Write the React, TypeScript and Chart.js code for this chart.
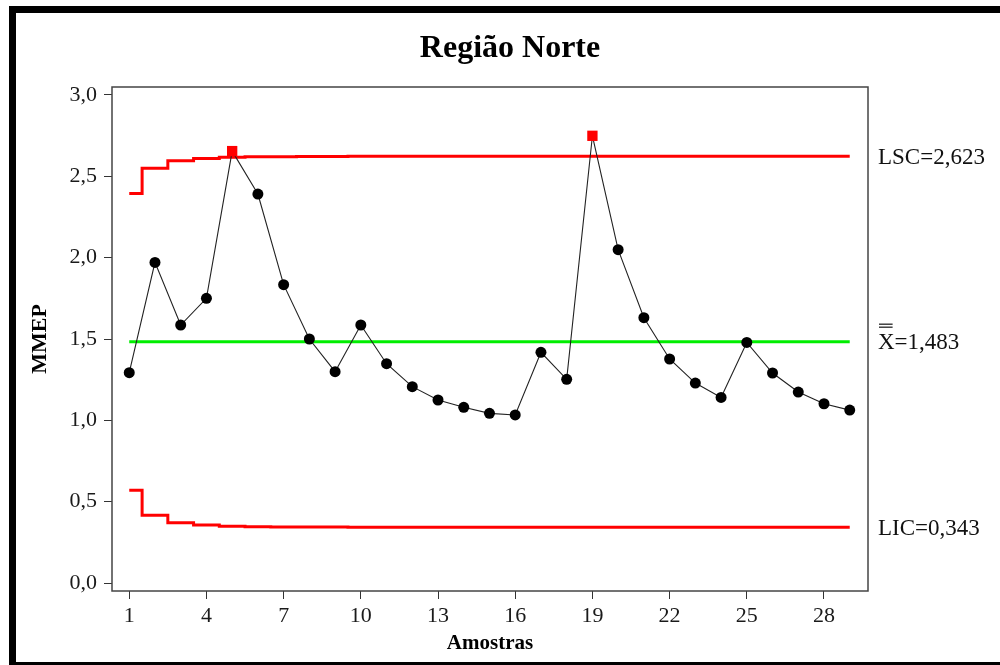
import React, { useEffect, useRef } from "react";
import { Chart, registerables } from "chart.js";

Chart.register(...registerables);

// ---- data ----
const samples = [1, 2, 3, 4, 5, 6, 7, 8, 9, 10, 11, 12, 13, 14, 15, 16, 17, 18, 19, 20, 21, 22, 23, 24, 25, 26, 27, 28, 29];
const mmep = [1.293, 1.971, 1.586, 1.75, 2.655, 2.391, 1.834, 1.5, 1.299, 1.586, 1.348, 1.207, 1.125, 1.08, 1.043, 1.033, 1.418, 1.252, 2.749, 2.049, 1.631, 1.377, 1.229, 1.141, 1.479, 1.291, 1.174, 1.102, 1.063];
const ucl = [2.395, 2.549, 2.595, 2.61, 2.617, 2.62, 2.621, 2.622, 2.622, 2.623, 2.623, 2.623, 2.623, 2.623, 2.623, 2.623, 2.623, 2.623, 2.623, 2.623, 2.623, 2.623, 2.623, 2.623, 2.623, 2.623, 2.623, 2.623, 2.623];
const lcl = [0.571, 0.417, 0.371, 0.356, 0.349, 0.346, 0.345, 0.344, 0.344, 0.343, 0.343, 0.343, 0.343, 0.343, 0.343, 0.343, 0.343, 0.343, 0.343, 0.343, 0.343, 0.343, 0.343, 0.343, 0.343, 0.343, 0.343, 0.343, 0.343];
const centerValue = 1.483;
const xTickValues = [1, 4, 7, 10, 13, 16, 19, 22, 25, 28];
const yTickValues = [0, 0.5, 1, 1.5, 2, 2.5, 3];
const titleText = "Região Norte";
const xTitle = "Amostras";
const yTitle = "MMEP";
const uclName = "LSC";
const lclName = "LIC";
const centerName = "X";

const SERIF = '"Liberation Serif", "Times New Roman", serif';
const fmt3 = (v: number) => v.toFixed(3).replace(".", ",");

const frameRect = {
  id: "frameRect",
  beforeDatasetsDraw(chart: any) {
    const { ctx, chartArea } = chart;
    ctx.save();
    ctx.strokeStyle = "#444";
    ctx.lineWidth = 1.5;
    ctx.strokeRect(chartArea.left, chartArea.top, chartArea.right - chartArea.left, chartArea.bottom - chartArea.top);
    ctx.restore();
  },
};

const sideLabels = {
  id: "sideLabels",
  afterDraw(chart: any) {
    const { ctx, chartArea } = chart;
    const y = chart.scales.y;
    const size = 23;
    const cap = size * 0.66;
    const x0 = chartArea.right + 10;
    ctx.save();
    ctx.font = `${size}px ${SERIF}`;
    ctx.fillStyle = "#111";
    ctx.textAlign = "left";
    ctx.textBaseline = "alphabetic";
    const uLast = ucl[ucl.length - 1];
    const lLast = lcl[lcl.length - 1];
    const yU = y.getPixelForValue(uLast);
    const yL = y.getPixelForValue(lLast);
    const yC = y.getPixelForValue(centerValue);
    ctx.fillText(`${uclName}=${fmt3(uLast)}`, x0, yU + cap / 2);
    ctx.fillText(`${lclName}=${fmt3(lLast)}`, x0, yL + cap / 2);
    ctx.fillText(`${centerName}=${fmt3(centerValue)}`, x0, yC + cap / 2);
    const wX = ctx.measureText(centerName).width;
    const capTop = yC - cap / 2;
    ctx.strokeStyle = "#111";
    ctx.lineWidth = 1.2;
    [7, 10].forEach((d) => {
      ctx.beginPath();
      ctx.moveTo(x0 + 1, capTop - d);
      ctx.lineTo(x0 + wX - 2, capTop - d);
      ctx.stroke();
    });
    ctx.restore();
  },
};

export default function App() {
  const ref = useRef<HTMLCanvasElement | null>(null);

  useEffect(() => {
    if (!ref.current) return;
    const pts = (arr: number[]) => samples.map((s, i) => ({ x: s, y: arr[i] }));
    const out = mmep.map((v, i) => v > ucl[i] || v < lcl[i]);
    const chart = new Chart(ref.current, {
      type: "line",
      data: {
        datasets: [
          {
            label: yTitle,
            data: pts(mmep),
            borderColor: "#222",
            borderWidth: 1.1,
            pointRadius: out.map((o) => (o ? 7.3 : 5.5)),
            pointStyle: out.map((o) => (o ? "rect" : "circle")) as any,
            pointBackgroundColor: out.map((o) => (o ? "#ff0000" : "#000")),
            pointBorderColor: out.map((o) => (o ? "#ff0000" : "#000")),
            pointBorderWidth: 0,
            tension: 0,
          },
          {
            label: "Centro",
            data: pts(samples.map(() => centerValue)),
            borderColor: "#00ee00",
            borderWidth: 3,
            pointRadius: 0,
          },
          {
            label: uclName,
            data: pts(ucl),
            borderColor: "#ff0000",
            borderWidth: 3,
            pointRadius: 0,
            stepped: "middle",
          },
          {
            label: lclName,
            data: pts(lcl),
            borderColor: "#ff0000",
            borderWidth: 3,
            pointRadius: 0,
            stepped: "middle",
          },
        ],
      },
      options: {
        animation: false,
        responsive: true,
        maintainAspectRatio: false,
        layout: { padding: 0 },
        plugins: {
          legend: { display: false },
          tooltip: { enabled: false },
          title: {
            display: true,
            text: titleText,
            color: "#000",
            font: { family: SERIF, size: 32, weight: "bold" },
            padding: { top: 16.8, bottom: 18.8 },
          },
        },
        scales: {
          x: {
            type: "linear",
            min: 0.33,
            max: 29.71,
            afterBuildTicks: (s: any) => {
              s.ticks = xTickValues.map((v) => ({ value: v }));
            },
            afterFit: (s: any) => {
              s.height = 71;
            },
            ticks: {
              color: "#1a1a1a",
              font: { family: SERIF, size: 22 },
              padding: 4,
              maxRotation: 0,
              autoSkip: false,
              callback: (v: any) => String(v),
            },
            grid: { display: true, drawOnChartArea: false, drawTicks: true, tickLength: 8, color: "#333" },
            border: { display: false },
            title: {
              display: true,
              text: xTitle,
              color: "#000",
              font: { family: SERIF, size: 21, weight: "bold" },
              padding: { top: 0, bottom: 5.5 },
            },
          },
          y: {
            type: "linear",
            min: -0.049,
            max: 3.049,
            afterBuildTicks: (s: any) => {
              s.ticks = yTickValues.map((v) => ({ value: v }));
            },
            afterFit: (s: any) => {
              s.width = 96;
            },
            ticks: {
              color: "#1a1a1a",
              font: { family: SERIF, size: 22 },
              padding: 7,
              callback: (v: any) => Number(v).toFixed(1).replace(".", ","),
            },
            grid: { display: true, drawOnChartArea: false, drawTicks: true, tickLength: 8, color: "#333" },
            border: { display: false },
            title: {
              display: true,
              text: yTitle,
              color: "#000",
              font: { family: SERIF, size: 22, weight: "bold" },
              padding: { top: 10.8, bottom: 0 },
            },
          },
          yRight: {
            type: "linear",
            position: "right",
            min: -0.049,
            max: 3.049,
            afterFit: (s: any) => {
              s.width = 136;
            },
            ticks: { display: false },
            grid: { display: false },
            border: { display: false },
          },
        },
      },
      plugins: [frameRect, sideLabels],
    } as any);
    return () => chart.destroy();
  }, []);

  return (
    <div style={{ position: "fixed", left: 0, top: 0, width: 1000, height: 665, overflow: "hidden", background: "#fff" }}>
      <div
        style={{
          position: "absolute",
          left: 9,
          top: 6,
          width: 1000,
          height: 649,
          border: "7px solid #000",
          background: "#fff",
        }}
      >
        <div style={{ position: "absolute", left: 0, top: 0, width: 988, height: 649 }}>
          <canvas ref={ref} />
        </div>
      </div>
    </div>
  );
}
